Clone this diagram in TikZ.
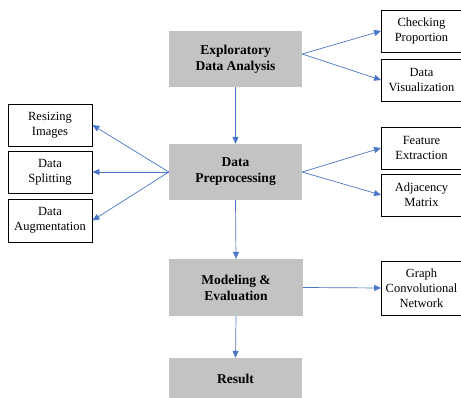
\documentclass[tikz,border=0pt]{standalone}
\usepackage{fontspec}
\setmainfont{Liberation Serif}
\usetikzlibrary{arrows.meta}
\definecolor{stagegray}{HTML}{C3C3C3}
\definecolor{flowblue}{HTML}{4A76C8}
\begin{document}
\begin{tikzpicture}[x=1pt,y=-1pt,
  stage/.style={fill=stagegray, draw=none, align=center, inner sep=0pt,
    font=\fontsize{13.5}{16}\selectfont\bfseries},
  task/.style={draw=black, line width=0.9pt, fill=white, align=center, inner sep=0pt,
    font=\fontsize{12.5}{15}\selectfont},
  flow/.style={draw=flowblue, line width=0.7pt, -{Triangle[length=7pt,width=6pt]}}]
\useasboundingbox (0,0) rectangle (461,398);
% main stages
\node[stage, minimum width=133pt, minimum height=56pt] (eda) at (235.5,59) {Exploratory\\Data Analysis};
\node[stage, minimum width=133pt, minimum height=56pt] (prep) at (235.5,172) {Data\\Preprocessing};
\node[stage, minimum width=134pt, minimum height=57pt] (model) at (236,287.5) {Modeling \&\\Evaluation};
\node[stage, minimum width=133pt, minimum height=42pt] (result) at (235.5,379) {Result};
% right side tasks
\node[task, minimum width=80pt, minimum height=42pt] (chk) at (421.5,31) {Checking\\Proportion};
\node[task, minimum width=80pt, minimum height=42pt] (vis) at (421.5,80) {Data\\Visualization};
\node[task, minimum width=80pt, minimum height=42pt] (feat) at (421.5,148) {Feature\\Extraction};
\node[task, minimum width=80pt, minimum height=42pt] (adj) at (421.5,195) {Adjacency\\Matrix};
\node[task, minimum width=80pt, minimum height=54pt] (gcn) at (421.5,288) {Graph\\Convolutional\\Network};
% left side tasks
\node[task, minimum width=84pt, minimum height=42pt] (resize) at (50,125) {Resizing\\Images};
\node[task, minimum width=84pt, minimum height=42pt] (split) at (50,172) {Data\\Splitting};
\node[task, minimum width=84pt, minimum height=43pt] (aug) at (50,220.5) {Data\\Augmentation};
% connectors
\draw[flow] ([yshift=5pt]eda.east) -- (chk.west);
\draw[flow] ([yshift=5pt]eda.east) -- (vis.west);
\draw[flow] (eda.south) -- (prep.north);
\draw[flow] (prep.west) -- (resize.east);
\draw[flow] (prep.west) -- (split.east);
\draw[flow] (prep.west) -- (aug.east);
\draw[flow] (prep.east) -- (feat.west);
\draw[flow] (prep.east) -- (adj.west);
\draw[flow] (prep.south) -- (model.north);
\draw[flow] (model.east) -- (gcn.west);
\draw[flow] (model.south) -- (result.north);
\end{tikzpicture}
\end{document}
